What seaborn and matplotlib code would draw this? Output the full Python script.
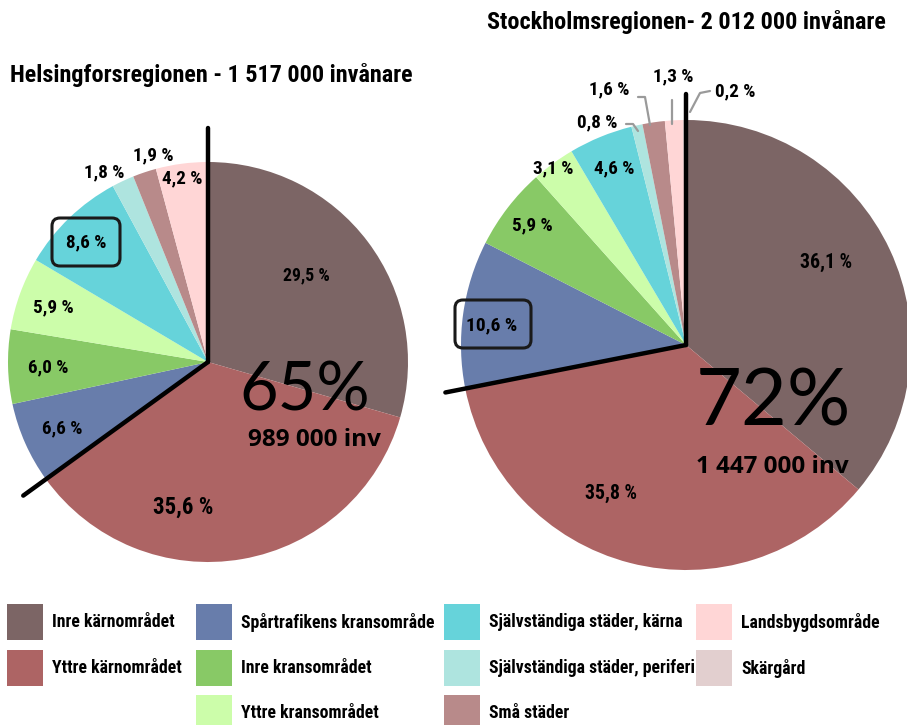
import numpy as np
import matplotlib
matplotlib.use("Agg")
import matplotlib.pyplot as plt
from matplotlib import font_manager
from matplotlib.patches import Rectangle, FancyBboxPatch
import seaborn as sns

# ---------------- data ----------------
categories = ["Inre kärnområdet", "Yttre kärnområdet", "Spårtrafikens kransområde",
              "Inre kransområdet", "Yttre kransområdet", "Självständiga städer, kärna",
              "Självständiga städer, periferi", "Små städer", "Landsbygdsområde", "Skärgård"]
colors_hex = ["#7c6565", "#ad6464", "#687dab", "#88c966", "#ccfdaa", "#66d3da",
              "#aee4df", "#b88a8a", "#ffd6d6", "#e2cfcf"]

helsinki_values = [29.5, 35.6, 6.6, 6.0, 5.9, 8.6, 1.8, 1.9, 4.2, 0.0]
stockholm_values = [36.1, 35.8, 10.6, 5.9, 3.1, 4.6, 0.8, 1.6, 1.3, 0.2]

helsinki_title = "Helsingforsregionen - 1 517 000 invånare"
stockholm_title = "Stockholmsregionen- 2 012 000 invånare"
helsinki_core_pct = "65%"
stockholm_core_pct = "72%"
helsinki_core_inv = "989 000 inv"
stockholm_core_inv = "1 447 000 inv"

# ---------------- style ----------------
sns.set_style("white")
palette = sns.color_palette(colors_hex)

names = {f.name for f in font_manager.fontManager.ttflist}
cond_stretch = {f.name for f in font_manager.fontManager.ttflist
                if str(f.stretch) in ("condensed", "semi-condensed", "extra-condensed", "75", "87", "62")}
COND = None
for cand in ["Liberation Sans Narrow", "Roboto Condensed", "Open Sans Condensed",
             "Noto Sans Condensed", "DejaVu Sans Condensed", "Arial Narrow"]:
    if cand in names:
        COND = cand
        break
STRETCH = "normal"
if COND is None:
    if "DejaVu Sans" in cond_stretch:
        COND, STRETCH = "DejaVu Sans", "condensed"
    elif "Roboto" in names:
        COND = "Roboto"
    else:
        COND = "DejaVu Sans"
plt.rcParams["font.family"] = [COND, "DejaVu Sans"]
plt.rcParams["font.stretch"] = STRETCH
plt.rcParams["text.color"] = "black"
SCALE = 1.0 if COND != "DejaVu Sans" or STRETCH == "condensed" else 0.85

W, H = 907, 725
fig = plt.figure(figsize=(W / 100, H / 100), dpi=100)
ax = fig.add_axes([0, 0, 1, 1])


def Y(y):
    return H - y


def fmt(v):
    return f"{v:.1f}".replace(".", ",") + " %"


def draw_pie(values, center, radius, vext, dext, label_pos, label_size, box, leaders):
    vals = list(values)
    keep = [i for i, v in enumerate(vals) if v > 0]
    ax.pie([vals[i] for i in keep], colors=[palette[i] for i in keep], startangle=90,
           counterclock=False, center=center, radius=radius,
           wedgeprops=dict(linewidth=0, antialiased=True), frame=True)
    total = sum(vals)
    core_frac = (vals[0] + vals[1]) / total
    ang = np.deg2rad(90 - 360 * core_frac)
    cx, cy = center
    ax.plot([cx, cx], [cy, cy + radius * vext], color="black", lw=3.2,
            solid_capstyle="round", zorder=5)
    ax.plot([cx, cx + radius * dext * np.cos(ang)], [cy, cy + radius * dext * np.sin(ang)],
            color="black", lw=3.2, solid_capstyle="round", zorder=5)
    for i, v in enumerate(vals):
        if v <= 0:
            continue
        x, y = label_pos[i]
        ax.text(x, Y(y), fmt(v), ha="center", va="center", fontsize=label_size[i] * SCALE,
                fontweight="bold", zorder=6)
    bx, by, bw, bh = box
    ax.add_patch(FancyBboxPatch((bx, Y(by + bh)), bw, bh,
                                boxstyle="round,pad=0,rounding_size=8",
                                fill=False, ec="#1a1a1a", lw=2.2, zorder=6))
    for pts in leaders:
        ax.plot([p[0] for p in pts], [Y(p[1]) for p in pts], color="#9a9a9a", lw=1.6, zorder=4)


# Helsinki
h_pos = [(306, 275), (183, 507), (62, 428), (48, 367), (53, 307), (86, 242),
         (104, 172), (153, 155), (182, 178), (0, 0)]
h_size = [12.8, 16.5, 13.8, 13.8, 13.8, 13.8, 13.8, 13.8, 13.8, 13.8]
draw_pie(helsinki_values, (208, Y(362)), 200, 1.17, 1.14, h_pos, h_size, (52, 218, 68, 48), [])

# Stockholm
s_pos = [(826, 262), (611, 493), (492, 325), (532, 225), (553, 168), (614, 168),
         (597, 122), (609, 89), (673, 76), (735, 91)]
s_size = [14.2, 14.2, 14.0, 13.8, 13.8, 13.8, 13.8, 13.8, 13.8, 13.8]
s_leaders = [
    [(626, 124), (633, 124), (638, 131)],
    [(638, 97), (645, 97), (650, 125)],
    [(672, 100), (672, 124)],
    [(710, 91), (700, 93), (690, 112)],
]
draw_pie(stockholm_values, (686, Y(345)), 225, 1.115, 1.09, s_pos, s_size, (455, 300, 76, 48), s_leaders)

# big core labels
BIG = ["Lato", "DejaVu Sans"]
ax.text(305, Y(391), helsinki_core_pct, ha="center", va="center", fontsize=48,
        family=BIG, fontweight="normal", stretch="normal", zorder=6)
ax.text(314, Y(440), helsinki_core_inv, ha="center", va="center", fontsize=17.5,
        family=["Open Sans", "DejaVu Sans"], fontweight="bold", stretch="normal", zorder=6)
ax.text(773, Y(403), stockholm_core_pct, ha="center", va="center", fontsize=57,
        family=BIG, fontweight="normal", stretch="normal", zorder=6)
ax.text(772, Y(467), stockholm_core_inv, ha="center", va="center", fontsize=17.5,
        family=["Open Sans", "DejaVu Sans"], fontweight="bold", stretch="normal", zorder=6)

# titles
ax.text(10, Y(75), helsinki_title, ha="left", va="center", fontsize=17.4 * SCALE, fontweight="bold")
ax.text(487, Y(22), stockholm_title, ha="left", va="center", fontsize=17.4 * SCALE, fontweight="bold")

# legend (manual grid: columns of categories)
legend_cols = [[0, 1], [2, 3, 4], [5, 6, 7], [8, 9]]
col_x = [7, 196, 444, 696]
row_y = [622, 668, 713]
sq = 36
for cx, idxs in zip(col_x, legend_cols):
    for r, i in enumerate(idxs):
        ax.add_patch(Rectangle((cx, Y(row_y[r] + sq / 2)), sq, sq, color=palette[i], lw=0))
        ax.text(cx + sq + 9, Y(row_y[r]), categories[i], ha="left", va="center",
                fontsize=12.8 * SCALE, fontweight="bold")

ax.set_xlim(0, W)
ax.set_ylim(0, H)
ax.set_aspect("equal")
ax.axis("off")
fig.savefig("out.png", dpi=100)
